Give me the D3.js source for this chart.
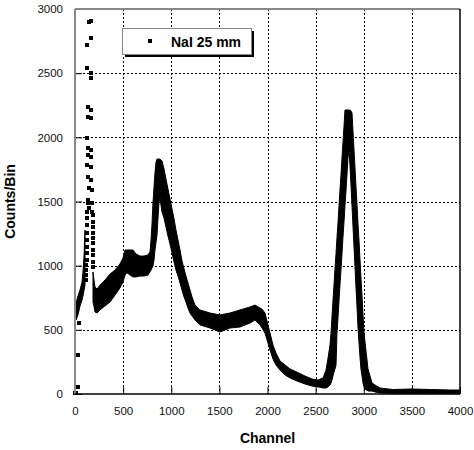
<!DOCTYPE html>
<html>
<head>
<meta charset="utf-8">
<script src="https://cdn.jsdelivr.net/npm/d3@7"></script>
<style>
  html, body { margin: 0; padding: 0; background: #fff; }
  svg { display: block; font-family: Arial, "Liberation Sans", sans-serif; }
</style>
</head>
<body>
<svg id="chart" width="474" height="450"></svg>
<script>
// values: channel, and the spread of counts seen at each channel
const bandChannel = [187,197,208,229,260,312,364,416,467,499,
    520,540,571,603,634,675,717,758,779,790,
    800,810,821,831,842,852,862,873,883,893,
    904,925,945,966,987,1008,1029,1049,1070,1091,
    1112,1133,1153,1174,1195,1216,1247,1299,1403,1506,
    1610,1714,1818,1870,1922,1943,1974,2005,2026,2057,
    2088,2130,2182,2234,2306,2390,2462,2525,2577,2608,
    2629,2649,2660,2670,2680,2691,2701,2712,2722,2733,
    2743,2753,2764,2774,2784,2795,2805,2816,2826,2836,
    2847,2857,2868,2878,2888,2899,2909,2919,2930,2940,
    2951,2961,2971,2982,2992,3003,3013,3023,3034,3044,
    3065,3086,3117,3169,3300,3500,3700,3900,4000];
const bandHigh = [951,888,834,818,849,888,935,966,1013,1060,
    1122,1122,1122,1122,1091,1075,1075,1083,1106,1200,
    1325,1488,1613,1722,1808,1831,1831,1831,1831,1823,
    1816,1753,1675,1597,1519,1442,1364,1278,1200,1122,
    1036,974,919,865,810,756,693,655,631,616,
    631,655,678,693,670,662,631,538,475,382,
    319,257,226,195,171,140,117,109,125,187,
    280,380,475,600,725,849,974,1095,1219,1343,
    1466,1590,1714,1839,1963,2088,2213,2213,2213,2213,
    2213,2213,2205,2190,2049,1901,1761,1621,1477,1332,
    1192,1048,904,764,620,475,405,335,265,195,
    140,86,70,47,35,39,35,31,31];
const bandLow = [717,686,639,631,655,686,717,771,826,873,
    927,945,927,912,912,919,919,927,951,966,
    982,997,1044,1122,1184,1239,1364,1496,1527,1473,
    1418,1371,1301,1231,1169,1099,1029,966,919,865,
    810,756,717,670,631,608,577,538,514,483,
    514,522,553,577,538,514,475,397,343,273,
    226,187,148,125,101,78,62,55,47,47,
    55,70,86,109,140,171,195,226,475,600,
    725,849,974,1095,1219,1343,1466,1590,1714,1839,
    1900,1777,1621,1465,1309,1145,990,834,678,522,
    397,288,195,140,86,55,39,31,31,23,
    23,23,16,8,3,3,3,3,3];

// short rising stretch before the low-channel spike
const riseChannel = [10, 31, 52, 73, 83, 94, 104];
const riseHigh = [709, 764, 810, 873, 951, 1083, 1278];
const riseLow = [577, 616, 686, 732, 764, 810, 849];

// single points that stand apart (spike near channel 150)
const spikeChannel = [0, 10, 31, 31, 38,
    142, 163, 163, 128, 128, 163, 169,
    135, 169, 135, 169, 128, 135, 169,
    135, 169, 128, 169, 135, 169, 142,
    177, 135, 177, 130, 150, 177,
    120, 120, 120, 120, 120, 120, 120,
    120, 114, 114, 110, 110,
    185, 185, 185, 185, 185, 185, 185,
    185, 185, 185];
const spikeCounts = [8, 8, 55, 304, 553,
    2896, 2906, 2772, 2719, 2538, 2499, 2460,
    2239, 2213, 2161, 2148, 1997, 1919, 1901,
    1862, 1849, 1784, 1771, 1693, 1667, 1603,
    1589, 1490, 1486, 1512, 1450, 1420,
    1418, 1371, 1317, 1254, 1200, 1145, 1099,
    1044, 1005, 966, 927, 888,
    1395, 1340, 1301, 1254, 1216, 1177, 1122,
    1083, 1029, 990];

const xTicks = [0, 500, 1000, 1500, 2000, 2500, 3000, 3500, 4000];
const yTicks = [0, 500, 1000, 1500, 2000, 2500, 3000];
const seriesName = "NaI 25 mm";

// -------------------------------------------------------------
const margin = { top: 9, right: 14, bottom: 56, left: 75 };
const width = 474 - margin.left - margin.right,
    height = 450 - margin.top - margin.bottom;

const x = d3.scaleLinear().domain([0, 4000]).range([0, width]);
const y = d3.scaleLinear().domain([0, 3000]).range([height, 0]);
const px = v => Math.round(v) + 0.5;

const svg = d3.select("#chart");
const g = svg.append("g")
    .attr("transform", `translate(${margin.left},${margin.top})`);

// dotted grid
const grid = g.append("g")
    .attr("fill", "none")
    .attr("stroke", "#000")
    .attr("stroke-width", 1)
    .attr("stroke-dasharray", "2,2");

grid.selectAll(".vgrid")
    .data(xTicks.slice(1, -1))
    .join("path")
    .attr("class", "vgrid")
    .attr("d", d => `M${px(x(d))},0V${height}`);

grid.selectAll(".hgrid")
    .data(yTicks.slice(1, -1))
    .join("path")
    .attr("class", "hgrid")
    .attr("d", d => `M0,${px(y(d))}H${width}`);

// data
const band = bandChannel.map((c, i) => ({ c, lo: bandLow[i], hi: bandHigh[i] }));
const rise = riseChannel.map((c, i) => ({ c, lo: riseLow[i], hi: riseHigh[i] }));
const spike = spikeChannel.map((c, i) => ({ c, v: spikeCounts[i] }));

const area = d3.area()
    .x(d => x(d.c))
    .y0(d => y(d.lo))
    .y1(d => y(d.hi));

g.append("g")
    .attr("fill", "#000")
    .attr("stroke", "#000")
    .attr("stroke-width", 1)
    .selectAll("path")
    .data([rise, band])
    .join("path")
    .attr("d", area);

g.append("g")
    .attr("fill", "#000")
    .attr("shape-rendering", "crispEdges")
    .selectAll("rect")
    .data(spike)
    .join("rect")
    .attr("x", d => x(d.c) - 2)
    .attr("y", d => y(d.v) - 2)
    .attr("width", 4)
    .attr("height", 4);

// axes with inward ticks
const xAxis = g.append("g")
    .attr("transform", `translate(0,${height})`)
    .call(d3.axisBottom(x).tickValues(xTicks).tickFormat(d3.format("d")).tickSize(-7).tickPadding(13));
const yAxis = g.append("g")
    .call(d3.axisLeft(y).tickValues(yTicks).tickFormat(d3.format("d")).tickSize(-7).tickPadding(12));

[xAxis, yAxis].forEach(a => {
    a.select(".domain").remove();
    a.selectAll(".tick line").attr("stroke", "#000");
    a.selectAll(".tick text")
        .attr("fill", "#111")
        .style("font-size", "11.5px")
        .style("font-family", "Arial, 'Liberation Sans', sans-serif");
});

// frame: grey top/left, black right/bottom
g.append("line").attr("x1", 0).attr("x2", width).attr("y1", 0).attr("y2", 0)
    .attr("stroke", "#888").attr("stroke-width", 2);
g.append("line").attr("x1", 0).attr("x2", 0).attr("y1", 0).attr("y2", height)
    .attr("stroke", "#888").attr("stroke-width", 2);
g.append("line").attr("x1", width).attr("x2", width).attr("y1", 0).attr("y2", height)
    .attr("stroke", "#000").attr("stroke-width", 1.5);
g.append("line").attr("x1", 0).attr("x2", width).attr("y1", height).attr("y2", height)
    .attr("stroke", "#000").attr("stroke-width", 1.5);

// axis titles
svg.append("text")
    .attr("x", margin.left + width / 2)
    .attr("y", 443)
    .attr("text-anchor", "middle")
    .style("font-size", "14px")
    .style("font-weight", "bold")
    .text("Channel");

svg.append("text")
    .attr("transform", `translate(15,${margin.top + height / 2}) rotate(-90)`)
    .attr("text-anchor", "middle")
    .style("font-size", "14px")
    .style("font-weight", "bold")
    .text("Counts/Bin");

// legend box with drop shadow
const legend = svg.append("g").attr("transform", "translate(122,28)");
legend.append("rect")
    .attr("x", 3).attr("y", 3).attr("width", 129).attr("height", 26)
    .attr("fill", "#000");
legend.append("rect")
    .attr("x", 0.5).attr("y", 0.5).attr("width", 129).attr("height", 26)
    .attr("fill", "#fff").attr("stroke", "#888").attr("stroke-width", 1);
legend.append("rect")
    .attr("x", 26).attr("y", 11).attr("width", 4).attr("height", 4)
    .attr("fill", "#000");
legend.append("text")
    .attr("x", 49).attr("y", 19)
    .style("font-size", "14px")
    .style("font-weight", "bold")
    .text(seriesName);
</script>
</body>
</html>
